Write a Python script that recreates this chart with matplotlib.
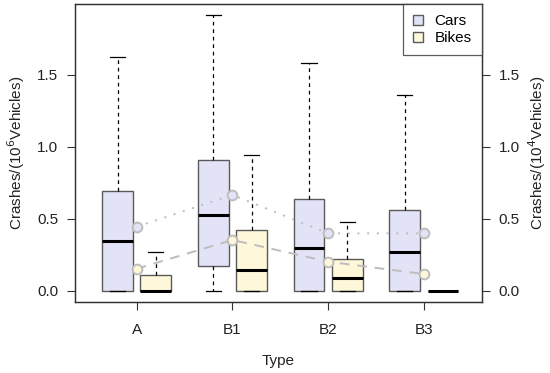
import matplotlib
matplotlib.use("Agg")
import matplotlib.pyplot as plt
import numpy as np
from matplotlib.patches import Patch

plt.rcParams["font.family"] = ["Liberation Sans", "DejaVu Sans"]

# values
types = ["A", "B1", "B2", "B3"]
# box statistics: lower whisker, q1, median, q3, upper whisker
cars_low = [0.0, 0.0, 0.0, 0.0]
cars_q1 = [0.0, 0.172, 0.0, 0.0]
cars_med = [0.343, 0.529, 0.297, 0.267]
cars_q3 = [0.695, 0.908, 0.636, 0.559]
cars_high = [1.627, 1.917, 1.584, 1.361]
cars_mean = [0.445, 0.666, 0.399, 0.399]

bikes_low = [0.0, 0.0, 0.0, 0.0]
bikes_q1 = [0.0, 0.0, 0.0, 0.0]
bikes_med = [0.0, 0.142, 0.088, 0.0]
bikes_q3 = [0.107, 0.422, 0.223, 0.0]
bikes_high = [0.271, 0.944, 0.478, 0.0]
bikes_mean = [0.153, 0.353, 0.202, 0.116]

yticks = [0.0, 0.5, 1.0, 1.5]

CAR_COL = "#E3E3F8"
BIKE_COL = "#FFF7DA"
EDGE = "#5a5a5a"
MEAN_EDGE = "#BDBDBD"
FS = 11


def make_stats(low, q1, med, q3, high):
    return [dict(whislo=a, q1=b, med=c, q3=d, whishi=e, fliers=[])
            for a, b, c, d, e in zip(low, q1, med, q3, high)]


def draw_boxes(ax, stats, pos, color):
    ax.bxp(stats, positions=pos, widths=0.32, patch_artist=True,
           showfliers=False, manage_ticks=False,
           boxprops=dict(facecolor=color, edgecolor=EDGE, linewidth=1.0),
           medianprops=dict(color="black", linewidth=2.2, solid_capstyle="butt"),
           whiskerprops=dict(color="black", linewidth=0.9, linestyle=(0, (3, 3))),
           capprops=dict(color="black", linewidth=0.9),
           capwidths=0.16)


fig = plt.figure(figsize=(5.5, 3.73), dpi=100)
ax = fig.add_axes([0.136, 0.190, 0.740, 0.799])

x = np.arange(1, len(types) + 1)
draw_boxes(ax, make_stats(cars_low, cars_q1, cars_med, cars_q3, cars_high), x - 0.2, CAR_COL)
draw_boxes(ax, make_stats(bikes_low, bikes_q1, bikes_med, bikes_q3, bikes_high), x + 0.2, BIKE_COL)

# mean markers connected by lines
ax.plot(x, cars_mean, linestyle=(0, (1, 4)), color=MEAN_EDGE, linewidth=1.4, zorder=4)
ax.plot(x, bikes_mean, linestyle=(0, (5, 4)), color=MEAN_EDGE, linewidth=1.4, zorder=4)
ax.plot(x, cars_mean, "o", ms=7, mfc=CAR_COL, mec=MEAN_EDGE, mew=1.4, zorder=5)
ax.plot(x, bikes_mean, "o", ms=7, mfc=BIKE_COL, mec=MEAN_EDGE, mew=1.4, zorder=5)

ax.set_xlim(0.354, 4.604)
ax.set_ylim(-0.079, 1.992)
ax.set_xticks(x)
ax.set_xticklabels(types)
ax.set_yticks(yticks)
ax.set_yticklabels([f"{t:.1f}" for t in yticks])
ax.tick_params(colors="#333333", labelcolor="#222222", labelsize=FS,
               length=6, width=0.8, pad=6)
ax.tick_params(axis="x", pad=9)
for s in ax.spines.values():
    s.set_color("#333333")
    s.set_linewidth(0.9)

ax.set_xlabel("Type", fontsize=FS, labelpad=12, color="#222222")
ax.set_ylabel("Crashes/(10$^{6}$Vehicles)", fontsize=FS, labelpad=7, color="#222222")

ax2 = ax.twinx()
ax2.set_ylim(ax.get_ylim())
ax2.set_yticks(yticks)
ax2.set_yticklabels([f"{t:.1f}" for t in yticks])
ax2.tick_params(colors="#333333", labelcolor="#222222", labelsize=FS,
                length=6, width=0.8, pad=6)
ax2.set_ylabel("Crashes/(10$^{4}$Vehicles)", fontsize=FS, labelpad=5,
               color="#222222", rotation=90)
for s in ax2.spines.values():
    s.set_color("#333333")
    s.set_linewidth(0.9)

handles = [Patch(facecolor=CAR_COL, edgecolor=EDGE, label="Cars"),
           Patch(facecolor=BIKE_COL, edgecolor=EDGE, label="Bikes")]
leg = ax2.legend(handles=handles, loc="upper right", fontsize=FS, fancybox=False,
                 borderaxespad=0, handlelength=0.65, handleheight=0.65,
                 handletextpad=0.75, borderpad=0.65, labelspacing=0.2)
leg.get_frame().set_edgecolor("#333333")
leg.get_frame().set_linewidth(0.9)

fig.savefig("out.png", dpi=100)
